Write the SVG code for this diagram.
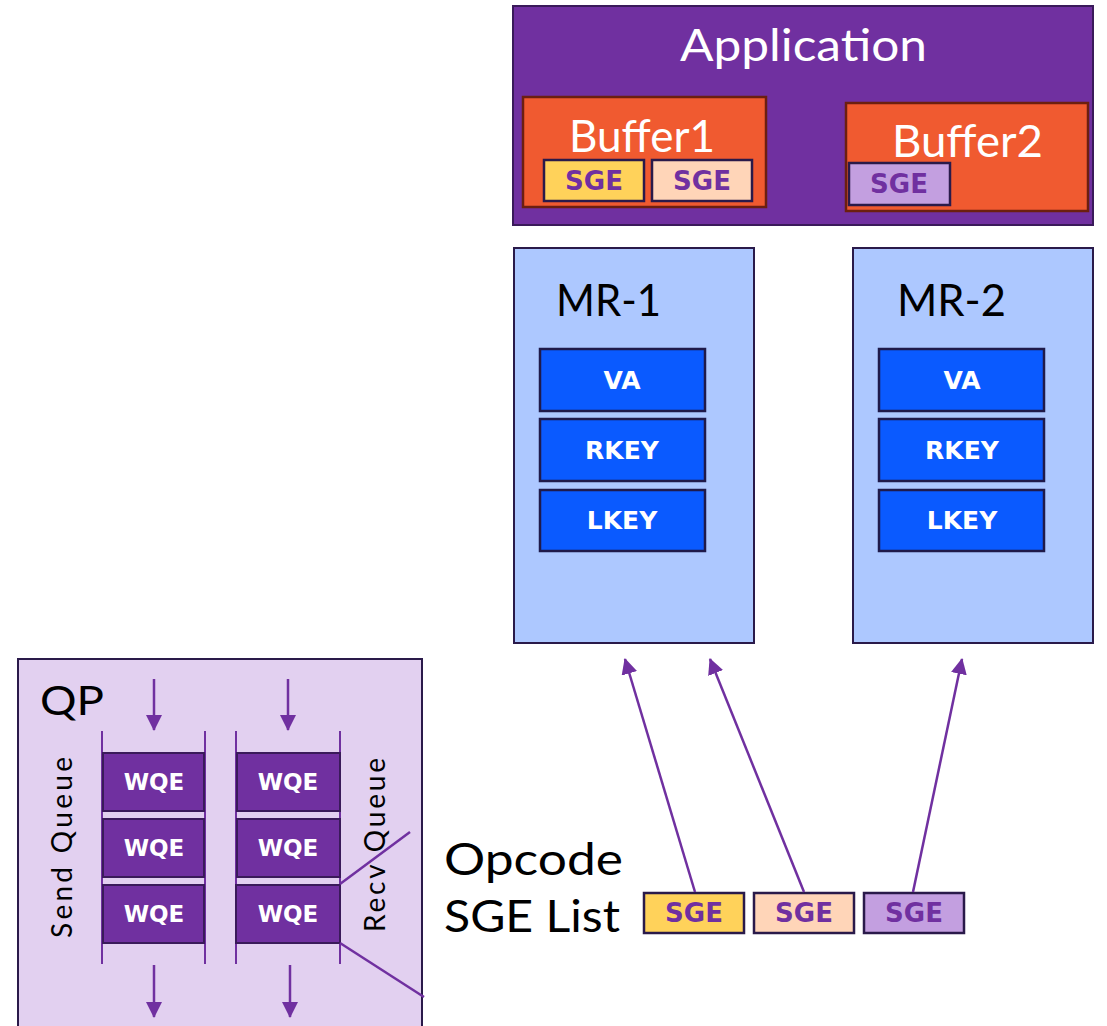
<svg xmlns="http://www.w3.org/2000/svg" width="1107" height="1026" viewBox="0 0 1107 1026">
<defs>
<style>
.lbl{font-family:Lato,"Noto Sans","DejaVu Sans",sans-serif;fill:#000;font-size:44px;}
.rot{font-family:Lato,"Noto Sans","DejaVu Sans",sans-serif;fill:#000;font-size:28px;}
.qp{font-family:Lato,"Noto Sans","DejaVu Sans",sans-serif;fill:#000;font-size:41px;}
.big{font-family:Lato,"Noto Sans","DejaVu Sans",sans-serif;fill:#fff;font-size:44px;}
.sge{font-family:"DejaVu Sans",Verdana,sans-serif;font-weight:bold;font-size:26px;fill:#7030A0;text-anchor:middle;}
.key{font-family:"DejaVu Sans",Verdana,sans-serif;font-weight:bold;font-size:25px;fill:#fff;text-anchor:middle;}
.wqe{font-family:"DejaVu Sans",Verdana,sans-serif;font-weight:bold;font-size:23px;fill:#fff;text-anchor:middle;}
.sgebox{stroke:#2a1a4a;stroke-width:2.5;}
.mr{fill:#ADC8FF;stroke:#2a1a4a;stroke-width:2;}
.kb{fill:#0A5AFF;stroke:#1f1a4a;stroke-width:2.5;}
.buf{fill:#F05A30;stroke:#6b1f10;stroke-width:2.5;}
.wq{fill:#7030A0;stroke:#3a1a5a;stroke-width:2;}
.rail{stroke:#7030A0;stroke-width:2;fill:none;}
.conn{stroke:#7030A0;stroke-width:2.5;fill:none;}
</style>
<marker id="ah" markerUnits="userSpaceOnUse" markerWidth="16" markerHeight="16" viewBox="0 0 16 16" refX="15" refY="8" orient="auto">
<path d="M0,0 L16,8 L0,16 z" fill="#7030A0"/>
</marker>
</defs>

<g id="application">
<rect x="513" y="6" width="580" height="219" fill="#7030A0" stroke="#3a1a5a" stroke-width="2"/>
<text class="big" x="680" y="61" textLength="247" lengthAdjust="spacingAndGlyphs">Application</text>
</g>

<g id="buffer1">
<rect class="buf" x="523" y="97" width="243" height="110"/>
<text class="big" x="569" y="152" textLength="146" lengthAdjust="spacingAndGlyphs">Buffer1</text>
<g id="buffer1-sge1"><rect class="sgebox" x="544" y="160" width="100" height="41" fill="#FFD25A"/><text class="sge" x="594" y="190">SGE</text></g>
<g id="buffer1-sge2"><rect class="sgebox" x="652" y="160" width="100" height="41" fill="#FFD5B8"/><text class="sge" x="702" y="190">SGE</text></g>
</g>

<g id="buffer2">
<rect class="buf" x="846" y="103" width="242" height="108"/>
<text class="big" x="892" y="157" textLength="151" lengthAdjust="spacingAndGlyphs">Buffer2</text>
<g id="buffer2-sge"><rect class="sgebox" x="849" y="163" width="101" height="42" fill="#C39FE0"/><text class="sge" x="899" y="193">SGE</text></g>
</g>

<g id="mr1">
<rect class="mr" x="514" y="248" width="240" height="395"/>
<text class="lbl" x="556" y="316" textLength="105" lengthAdjust="spacingAndGlyphs">MR-1</text>
<rect class="kb" x="540" y="349" width="165" height="62"/><text class="key" x="622" y="389">VA</text>
<rect class="kb" x="540" y="419" width="165" height="62"/><text class="key" x="622" y="459">RKEY</text>
<rect class="kb" x="540" y="490" width="165" height="61"/><text class="key" x="622" y="529">LKEY</text>
</g>

<g id="mr2">
<rect class="mr" x="853" y="248" width="240" height="395"/>
<text class="lbl" x="897" y="316" textLength="109" lengthAdjust="spacingAndGlyphs">MR-2</text>
<rect class="kb" x="879" y="349" width="165" height="62"/><text class="key" x="962" y="389">VA</text>
<rect class="kb" x="879" y="419" width="165" height="62"/><text class="key" x="962" y="459">RKEY</text>
<rect class="kb" x="879" y="490" width="165" height="61"/><text class="key" x="962" y="529">LKEY</text>
</g>

<g id="qp">
<rect x="18" y="659" width="404" height="380" fill="#E2D0F0" stroke="#2a1a4a" stroke-width="2"/>
<text class="qp" x="40" y="715" textLength="64" lengthAdjust="spacingAndGlyphs">QP</text>
<text class="rot" transform="translate(72,938) rotate(-90)" textLength="181" lengthAdjust="spacing">Send Queue</text>
<text class="rot" transform="translate(385,932) rotate(-90)" textLength="174" lengthAdjust="spacing">Recv Queue</text>
<line class="rail" x1="102" y1="731" x2="102" y2="964"/>
<line class="rail" x1="205" y1="731" x2="205" y2="964"/>
<line class="rail" x1="236" y1="731" x2="236" y2="964"/>
<line class="rail" x1="340" y1="731" x2="340" y2="964"/>
<g id="sq-wqe1"><rect class="wq" x="103" y="753" width="101" height="58"/><text class="wqe" x="154" y="790">WQE</text></g>
<g id="sq-wqe2"><rect class="wq" x="103" y="819" width="101" height="58"/><text class="wqe" x="154" y="856">WQE</text></g>
<g id="sq-wqe3"><rect class="wq" x="103" y="885" width="101" height="58"/><text class="wqe" x="154" y="922">WQE</text></g>
<g id="rq-wqe1"><rect class="wq" x="237" y="753" width="103" height="58"/><text class="wqe" x="288" y="790">WQE</text></g>
<g id="rq-wqe2"><rect class="wq" x="237" y="819" width="103" height="58"/><text class="wqe" x="288" y="856">WQE</text></g>
<g id="rq-wqe3"><rect class="wq" x="236" y="885" width="104" height="58" stroke="#2a1440" stroke-width="2.5"/><text class="wqe" x="288" y="922">WQE</text></g>
</g>

<g id="sge-list">
<text class="lbl" x="444" y="875" textLength="179" lengthAdjust="spacingAndGlyphs">Opcode</text>
<text class="lbl" x="444" y="932" textLength="176" lengthAdjust="spacingAndGlyphs">SGE List</text>
<g id="list-sge1"><rect class="sgebox" x="644" y="893" width="100" height="40" fill="#FFD25A"/><text class="sge" x="694" y="922">SGE</text></g>
<g id="list-sge2"><rect class="sgebox" x="754" y="893" width="100" height="40" fill="#FFD5B8"/><text class="sge" x="804" y="922">SGE</text></g>
<g id="list-sge3"><rect class="sgebox" x="864" y="893" width="100" height="40" fill="#C39FE0"/><text class="sge" x="914" y="922">SGE</text></g>
</g>

<g id="connectors">
<line class="conn" x1="154" y1="679" x2="154" y2="730" marker-end="url(#ah)"/>
<line class="conn" x1="288" y1="679" x2="288" y2="730" marker-end="url(#ah)"/>
<line class="conn" x1="154" y1="965" x2="154" y2="1017" marker-end="url(#ah)"/>
<line class="conn" x1="290" y1="965" x2="290" y2="1017" marker-end="url(#ah)"/>
<line class="conn" x1="340" y1="884" x2="410" y2="832"/>
<line class="conn" x1="340" y1="943" x2="424" y2="997"/>
<line class="conn" x1="695" y1="892" x2="625" y2="659" marker-end="url(#ah)"/>
<line class="conn" x1="804" y1="892" x2="710" y2="659" marker-end="url(#ah)"/>
<line class="conn" x1="913" y1="892" x2="962" y2="659" marker-end="url(#ah)"/>
</g>
</svg>
